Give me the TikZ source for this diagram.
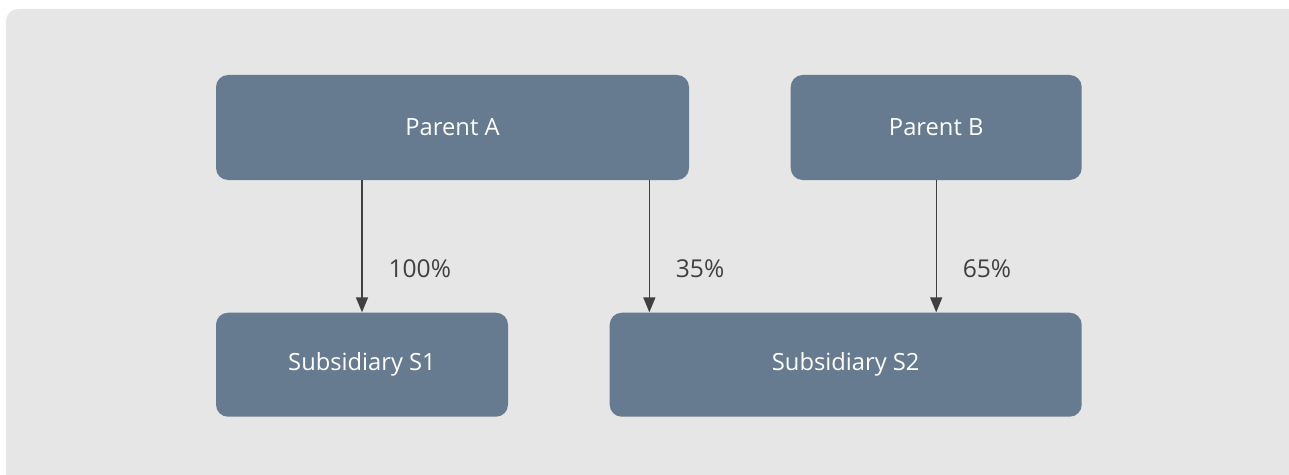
\documentclass[tikz,border=0pt]{standalone}
\usepackage{fontspec}
\setmainfont{Open Sans}
\usetikzlibrary{positioning}
\usetikzlibrary{arrows.meta}
\definecolor{boxblue}{HTML}{667B8F}
\definecolor{panelgray}{HTML}{E6E6E6}
\definecolor{linegray}{HTML}{404040}
\tikzstyle{arrow} = [line width=0.8pt, draw=linegray, -{Triangle[length=0.3cm,width=0.24cm]}]
\tikzstyle{entity} = [
    rectangle, rounded corners=0.24cm, minimum height=2.1cm, text centered,
    fill=boxblue, text=white, font=\fontsize{13.5}{16}\selectfont]
\tikzstyle{share} = [text=linegray, anchor=west, xshift=0.4cm, font=\fontsize{14}{17}\selectfont]

\begin{document}
\begin{tikzpicture}
\useasboundingbox (0,0) rectangle (25.78,-9.5);
\fill [panelgray, rounded corners=0.24cm] (0.12,-0.18) rectangle (26.3,-10.1);

\node (parent-a) [entity, minimum width=9.46cm] at (9.05,-2.55) {Parent A};

\node (parent-b) [entity, minimum width=5.82cm, right=2.02cm of parent-a] {Parent B};

\node (sub-s1) [entity, minimum width=5.84cm, minimum height=2.08cm,
    below=2.64cm of parent-a.south west, anchor=north west] {Subsidiary S1};

\node (sub-s2) [entity, minimum width=9.44cm, minimum height=2.08cm,
    right=2.02cm of sub-s1] {Subsidiary S2};

\draw [arrow] (parent-a.south -| sub-s1.north) -- node [share, pos=0.67] {100\%} (sub-s1.north);
\draw [arrow] ([xshift=-0.8cm]parent-a.south east) -- node [share, pos=0.67] {35\%}
    ([xshift=-0.8cm]parent-a.south east |- sub-s2.north);
\draw [arrow] (parent-b.south) -- node [share, pos=0.67] {65\%} (parent-b.south |- sub-s2.north);
\end{tikzpicture}
\end{document}
